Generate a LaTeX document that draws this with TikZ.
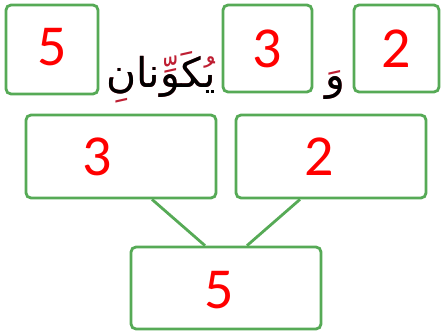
\documentclass[tikz,border=0pt]{standalone}
\usepackage{fontspec}
\setmainfont{Carlito}
\newfontfamily\arabicfont[Script=Arabic]{DejaVu Sans}
\TeXXeTstate=1
\usetikzlibrary{positioning}
\definecolor{boxgreen}{RGB}{86,170,86}
\definecolor{digitred}{RGB}{255,0,0}
\definecolor{harakared}{RGB}{190,30,50}
\tikzset{
  numbox/.style={rectangle, rounded corners=5pt, draw=boxgreen, line width=2.8pt,
    fill=white, inner sep=0pt},
  digit/.style={font=\fontsize{58}{62}\selectfont, text=digitred, inner sep=0pt},
  arabic/.style={font=\arabicfont\fontsize{41}{45}\selectfont, inner sep=0pt, anchor=base},
  joinline/.style={draw=boxgreen, line width=2.8pt}
}

\begin{document}
\begin{tikzpicture}[x=1pt,y=-1pt]
  \useasboundingbox (0,0) rectangle (444,334);

  % --- top row: sentence ---
  \node[numbox, minimum width=92pt, minimum height=89pt] (topsum) at (52,49.5) {};
  \node[numbox, minimum width=89pt, minimum height=87pt] (topthree) at (267.5,48.5) {};
  \node[numbox, minimum width=85pt, minimum height=87pt] (toptwo) at (396.5,48.5) {};

  \node[digit] (topsumval) at ([yshift=2pt]topsum.center) {5};
  \node[digit] (topthreeval) at (topthree) {3};
  \node[digit] (toptwoval) at (toptwo) {2};

  % red marks underneath, bare letters on top
  \node[arabic, text=harakared] (verbmarks) at (161,88) {\beginR يُكَوِّنانِ\endR};
  \node[arabic] (verb) at (161,88) {\beginR يكونان\endR};
  \node[arabic, text=harakared] (andmarks) at (335,90) {\beginR وَ\endR};
  \node[arabic] (and) at (335,90) {\beginR و\endR};

  % --- number bond ---
  \node[numbox, minimum width=190pt, minimum height=83pt] (leftpart) at (121,156.5) {};
  \node[numbox, minimum width=190pt, minimum height=83pt] (rightpart) at (331,156.5) {};
  \node[numbox, minimum width=190pt, minimum height=82pt] (whole) at (226,288) {};

  \node[digit] (leftval) at ([xshift=-24pt]leftpart.center) {3};
  \node[digit] (rightval) at ([xshift=-12pt]rightpart.center) {2};
  \node[digit] (wholeval) at ([xshift=-7pt,yshift=-2pt]whole.center) {5};

  % ---------------- edges ----------------
  \draw[joinline] ([xshift=31pt]leftpart.south) -- ([xshift=-21pt]whole.north);
  \draw[joinline] ([xshift=-31pt]rightpart.south) -- ([xshift=21pt]whole.north);

\end{tikzpicture}
\end{document}
